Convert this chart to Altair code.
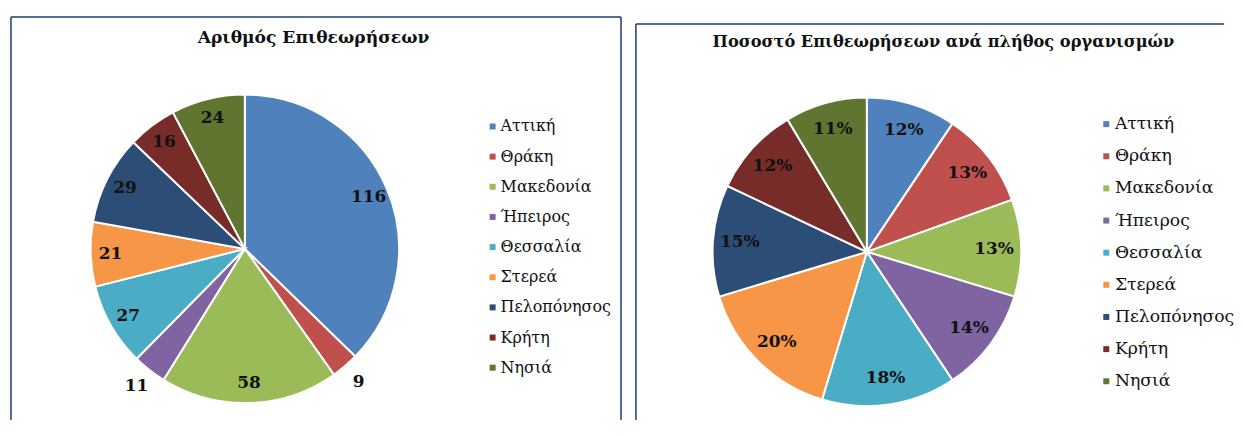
import altair as alt
import pandas as pd

regions = ["Αττική", "Θράκη", "Μακεδονία", "Ήπειρος", "Θεσσαλία",
           "Στερεά", "Πελοπόνησος", "Κρήτη", "Νησιά"]
counts = [116, 9, 58, 11, 27, 21, 29, 16, 24]
percents = [12, 13, 13, 14, 18, 20, 15, 12, 11]
palette = ["#4F81BD", "#C0504D", "#9BBB59", "#8064A2", "#4BACC6",
           "#F79646", "#2C4D75", "#772C2A", "#5F7530"]
title_left = "Αριθμός Επιθεωρήσεων"
title_right = "Ποσοστό Επιθεωρήσεων ανά πλήθος οργανισμών"

W1, W2, H = 613, 585, 405
BORDER = "#1F3B73"
SERIF = "DejaVu Serif"


def panel(values, title, label_expr, cx, cy, r_in, lx, ly, lfont, rowpad,
          tx, ty, tsize, top, width, top_len, right_border):
    df = pd.DataFrame({"region": regions, "value": values, "idx": list(range(len(regions)))})
    base = alt.Chart(df)
    color = alt.Color(
        "region:N", sort=regions,
        scale=alt.Scale(domain=regions, range=palette),
        legend=alt.Legend(title=None, orient="none", legendX=lx, legendY=ly,
                          symbolType="square", symbolSize=36, symbolStrokeWidth=0,
                          labelFont=SERIF, labelFontSize=lfont, labelColor="#111111",
                          rowPadding=rowpad, labelOffset=0, padding=0),
    )
    arcs = base.mark_arc(outerRadius=155, stroke="white", strokeWidth=2).encode(
        theta=alt.Theta("value:Q", stack=True),
        color=color,
        order=alt.Order("idx:Q"),
        x=alt.value(cx), y=alt.value(cy),
    )

    def label_layer(radius, cond):
        return base.transform_joinaggregate(total="sum(value)").transform_calculate(
            label=f"({cond}) ? ({label_expr}) : ''",
        ).mark_text(font=SERIF, fontWeight="bold", fontSize=17, color="#111111",
                    baseline="middle", align="center", radius=radius).encode(
            theta=alt.Theta("value:Q", stack=True),
            text="label:N",
            order=alt.Order("idx:Q"),
            x=alt.value(cx), y=alt.value(cy),
        )

    inner = label_layer(r_in, "datum.value / datum.total >= 0.045")
    outer = label_layer(176, "datum.value / datum.total < 0.045")

    one = alt.Chart(pd.DataFrame({"a": [0]}))
    ttl = one.mark_text(font=SERIF, fontWeight="bold", fontSize=tsize, color="#111111",
                        baseline="alphabetic", align="center").encode(
        x=alt.value(tx), y=alt.value(ty), text=alt.value(title))
    rules = [
        one.mark_rule(color=BORDER, strokeWidth=1.5).encode(
            x=alt.value(0), y=alt.value(top), y2=alt.value(H)),
        one.mark_rule(color=BORDER, strokeWidth=1.5).encode(
            x=alt.value(0), x2=alt.value(top_len), y=alt.value(top)),
    ]
    if right_border:
        rules.append(one.mark_rule(color=BORDER, strokeWidth=1.5).encode(
            x=alt.value(width), y=alt.value(top), y2=alt.value(H)))
    return alt.layer(arcs, inner, outer, ttl, *rules).properties(width=width, height=H)


left = panel(counts, title_left, "'' + datum.value", 235, 233, 135,
             476, 102, 16, 14.3, 304, 26, 17.2, 0, W1, W1, True)
right = panel(percents, title_right, "datum.value + '%'", 232, 236, 128,
              464, 99, 17.3, 14.3, 309, 30, 16.3, 7, W2, W2 + 6, False)

chart = alt.hconcat(left, right, spacing=13).resolve_scale(
    color="independent", theta="independent"
).resolve_legend(color="independent").configure_view(stroke=None).properties(
    padding={"left": 2, "top": 7, "right": 0, "bottom": 0},
    background="white",
)

chart.save("out.html", embed_options={"renderer": "svg", "actions": False})
